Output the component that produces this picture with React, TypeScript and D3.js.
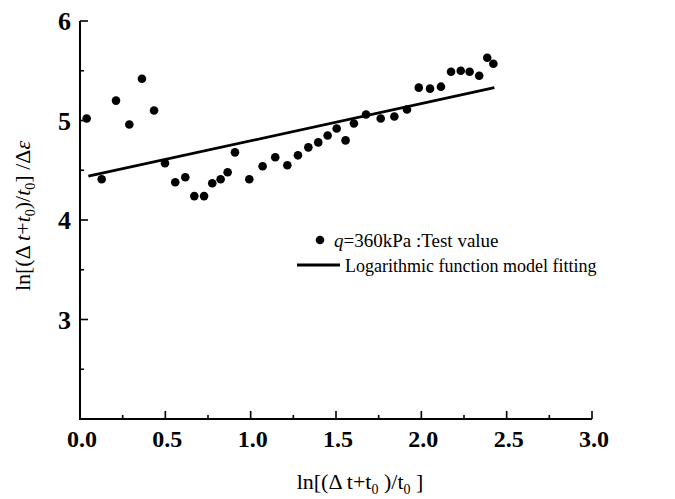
import React from "react";
import * as d3 from "d3";

const testX = [0.039, 0.127, 0.211, 0.289, 0.363, 0.434, 0.498, 0.558, 0.617, 0.67, 0.727, 0.775, 0.824, 0.865, 0.908, 0.992, 1.07, 1.144, 1.215, 1.277, 1.338, 1.396, 1.451, 1.504, 1.556, 1.605, 1.676, 1.762, 1.842, 1.916, 1.985, 2.051, 2.115, 2.174, 2.231, 2.283, 2.339, 2.386, 2.422];
const testY = [5.02, 4.41, 5.2, 4.96, 5.42, 5.1, 4.57, 4.38, 4.43, 4.24, 4.24, 4.37, 4.41, 4.48, 4.68, 4.41, 4.54, 4.63, 4.55, 4.65, 4.73, 4.78, 4.85, 4.92, 4.8, 4.97, 5.06, 5.02, 5.04, 5.11, 5.33, 5.32, 5.34, 5.49, 5.5, 5.49, 5.45, 5.63, 5.57];
const fitX = [0.049, 2.428];
const fitY = [4.44, 5.33];
const xTicks = [0, 0.5, 1.0, 1.5, 2.0, 2.5, 3.0];
const xMinor = [0.25, 0.75, 1.25, 1.75, 2.25, 2.75];
const yTicks = [3, 4, 5, 6];
const yMinor = [2.5, 3.5, 4.5, 5.5];

const FONT = "'Liberation Serif', 'Times New Roman', serif";

export default function App() {
  const W = 675, H = 499;
  const x = d3.scaleLinear().domain([0, 3]).range([80, 592]);
  const y = d3.scaleLinear().domain([2, 6]).range([419, 21]);
  const line = d3.line<number>().x((d, i) => x(fitX[i])).y((d, i) => y(fitY[i]));
  const x0 = x(0), y0 = y(2);
  return (
    <svg width={W} height={H} style={{ position: "absolute", left: 0, top: 0, background: "#fff" }} fontFamily={FONT}>
      <rect width={W} height={H} fill="#fff" />
      {/* axes */}
      <line x1={x0} x2={x0} y1={y(6)} y2={y0 + 1} stroke="#000" strokeWidth={2} />
      <line x1={x0 - 1} x2={x(3)} y1={y0} y2={y0} stroke="#000" strokeWidth={2} />
      {xTicks.map((t) => (
        <line key={"xt" + t} x1={x(t)} x2={x(t)} y1={y0} y2={y0 - 8} stroke="#000" strokeWidth={1.6} />
      ))}
      {xMinor.map((t) => (
        <line key={"xm" + t} x1={x(t)} x2={x(t)} y1={y0} y2={y0 - 4} stroke="#000" strokeWidth={1.6} />
      ))}
      {yTicks.map((t) => (
        <line key={"yt" + t} x1={x0} x2={x0 + 8} y1={y(t)} y2={y(t)} stroke="#000" strokeWidth={1.6} />
      ))}
      {yMinor.map((t) => (
        <line key={"ym" + t} x1={x0} x2={x0 + 4} y1={y(t)} y2={y(t)} stroke="#000" strokeWidth={1.6} />
      ))}
      {xTicks.map((t) => (
        <text key={"xl" + t} x={x(t) + 2} y={447} textAnchor="middle" fontSize={24} fontWeight="bold">
          {t.toFixed(1)}
        </text>
      ))}
      {yTicks.map((t) => (
        <text key={"yl" + t} x={71} y={y(t)} dy="0.35em" textAnchor="end" fontSize={26} fontWeight="bold">
          {t}
        </text>
      ))}
      {/* x title */}
      <text x={360} y={489} textAnchor="middle" fontSize={22}>
        ln[(Δ t+t<tspan fontSize={14} dy={5}>0</tspan><tspan dy={-5}> )/t</tspan><tspan fontSize={14} dy={5}>0</tspan><tspan dy={-5}> ]</tspan>
      </text>
      {/* y title */}
      <text transform={`translate(30,216) rotate(-90)`} textAnchor="middle" fontSize={22}>
        ln[(Δ <tspan fontStyle="italic">t</tspan>+<tspan fontStyle="italic">t</tspan><tspan fontSize={14} dy={5}>0</tspan><tspan dy={-5}>)/</tspan><tspan fontStyle="italic">t</tspan><tspan fontSize={14} dy={5}>0</tspan><tspan dy={-5}>] /Δ</tspan><tspan fontStyle="italic">ε</tspan>
      </text>
      {/* fit line */}
      <path d={line(fitX) || ""} fill="none" stroke="#000" strokeWidth={2.8} />
      {/* points */}
      {testX.map((v, i) => (
        <circle key={"p" + i} cx={x(v)} cy={y(testY[i])} r={4.3} fill="#000" />
      ))}
      {/* legend */}
      <circle cx={320} cy={240} r={4.3} fill="#000" />
      <text x={334} y={247} fontSize={19}>
        <tspan fontStyle="italic">q</tspan>=360kPa :Test value
      </text>
      <line x1={297} x2={340} y1={265} y2={265} stroke="#000" strokeWidth={2.8} />
      <text x={345} y={272} fontSize={18}>Logarithmic function model fitting</text>
    </svg>
  );
}
